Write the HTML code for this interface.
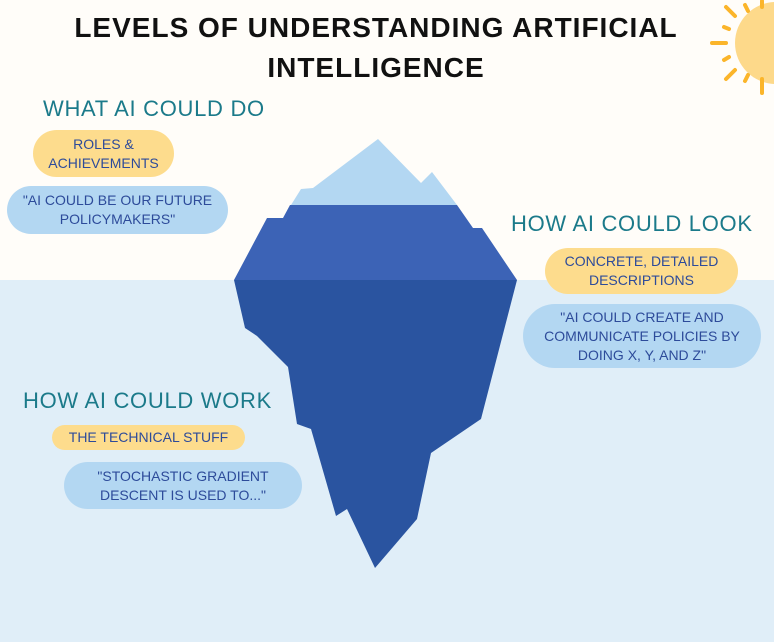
<!DOCTYPE html>
<html><head><meta charset="utf-8"><style>
body{margin:0;width:774px;height:642px;overflow:hidden;font-family:"Liberation Sans",sans-serif;position:relative;background:#fffdf9}
.water{position:absolute;left:0;top:280px;width:774px;height:362px;background:#e0eef8}
.t{position:absolute;left:0;width:752px;text-align:center;font-size:28px;font-weight:bold;color:#111;letter-spacing:1px}
.h{position:absolute;color:#1b7a8a;font-size:22px;letter-spacing:0.7px;white-space:nowrap;line-height:1}
.p{position:absolute;display:flex;align-items:center;justify-content:center;text-align:center;color:#2d4b9a;font-size:14px;line-height:19px;border-radius:26px}
.y{background:#fddc8d}.b{background:#b3d7f2}
svg{position:absolute;left:0;top:0}
</style></head><body>
<div class="water"></div>
<svg width="774" height="642">
<polygon points="291,205 301,189 313,188 378,139 421,183 432,172 457,205" fill="#b3d7f2"/>
<polygon points="290,205 283,218 267,218 234,280 517,280 482,228 473,228 457,205" fill="#3c63b6"/>
<polygon points="234,280 245,328 257,336 288,367 297,424 311,429 336,516 347,509 375,568 417,519 431,453 481,419 517,280" fill="#2a54a0"/>
<circle cx="776" cy="43" r="41" fill="#fdd98a"/>
<g stroke="#fbb52a" stroke-width="4" stroke-linecap="round">
<line x1="712" y1="43" x2="726" y2="43"/>
<line x1="726" y1="7" x2="735" y2="16"/>
<line x1="724" y1="27" x2="729" y2="29"/>
<line x1="745" y1="5" x2="748" y2="11"/>
<line x1="762" y1="1" x2="762" y2="7"/>
<line x1="724" y1="60" x2="729" y2="57"/>
<line x1="726" y1="79" x2="735" y2="70"/>
<line x1="745" y1="81" x2="748" y2="75"/>
<line x1="762" y1="79" x2="762" y2="93"/>
</g>
</svg>
<div class="t" style="top:12px">LEVELS OF UNDERSTANDING ARTIFICIAL</div>
<div class="t" style="top:52px">INTELLIGENCE</div>
<div class="h" style="left:43px;top:98px">WHAT AI COULD DO</div>
<div class="p y" style="left:33px;top:130px;width:141px;height:47px">ROLES &amp;<br>ACHIEVEMENTS</div>
<div class="p b" style="left:7px;top:186px;width:221px;height:48px">"AI COULD BE OUR FUTURE<br>POLICYMAKERS"</div>
<div class="h" style="left:511px;top:213px">HOW AI COULD LOOK</div>
<div class="p y" style="left:545px;top:248px;width:193px;height:46px">CONCRETE, DETAILED<br>DESCRIPTIONS</div>
<div class="p b" style="left:523px;top:304px;width:238px;height:64px;border-radius:32px">"AI COULD CREATE AND<br>COMMUNICATE POLICIES BY<br>DOING X, Y, AND Z"</div>
<div class="h" style="left:23px;top:390px">HOW AI COULD WORK</div>
<div class="p y" style="left:52px;top:425px;width:193px;height:25px">THE TECHNICAL STUFF</div>
<div class="p b" style="left:64px;top:462px;width:238px;height:47px">"STOCHASTIC GRADIENT<br>DESCENT IS USED TO..."</div>
</body></html>
